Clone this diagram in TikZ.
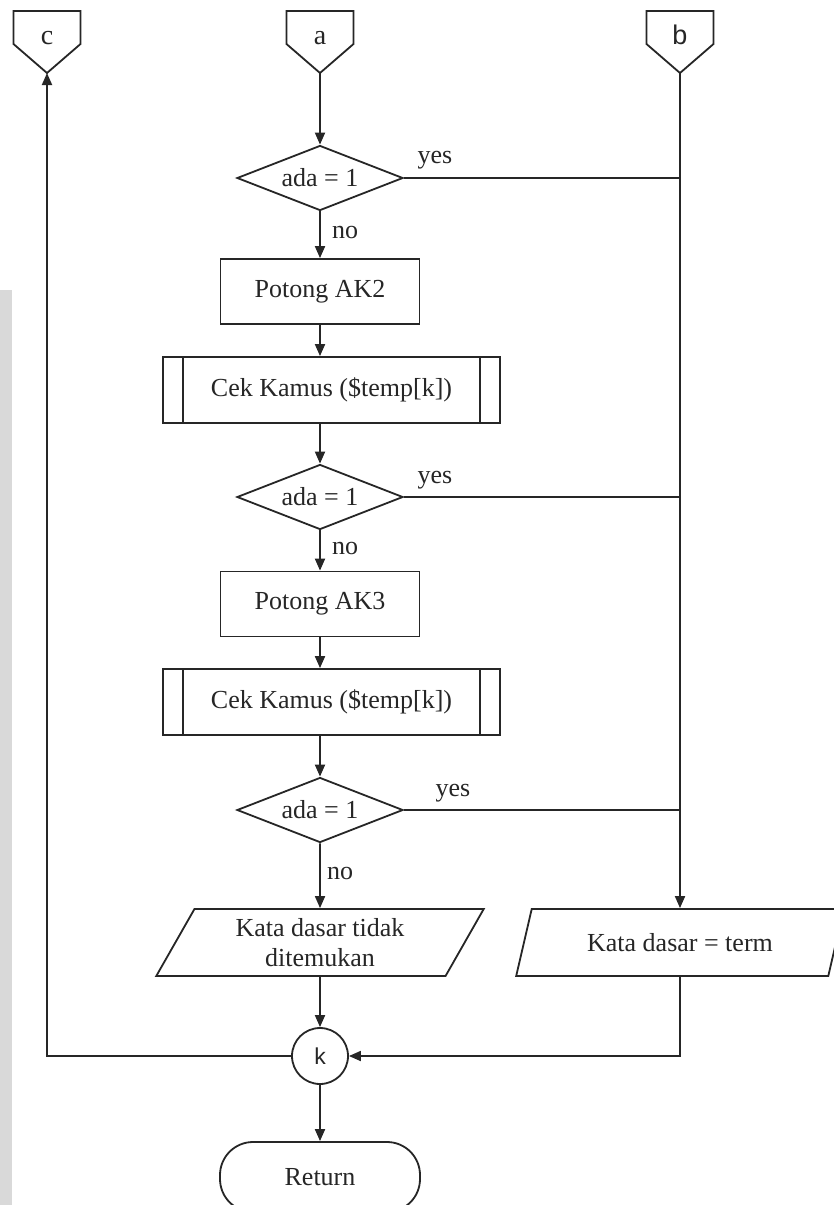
\documentclass[tikz,border=0pt]{standalone}
\usepackage{fontspec}
\setmainfont{Liberation Serif}
\newfontfamily\sansA{Liberation Sans}
\usetikzlibrary{shapes.geometric,arrows.meta,calc}
\begin{document}
\begin{tikzpicture}[x=1pt,y=-1pt,line width=1.8pt,color=black!85,
  font=\fontsize{26}{30}\selectfont,
  proc/.style={draw,rectangle,minimum width=199pt,minimum height=65pt,inner sep=0pt},
  sub/.style={proc,minimum width=337pt,minimum height=66pt},
  dec/.style={draw,diamond,aspect=2.55,minimum width=166pt,minimum height=65pt,inner sep=0pt},
  io/.style={draw,trapezium,trapezium left angle=62,trapezium right angle=118,
    trapezium stretches=true,minimum width=328pt,minimum height=67pt,inner sep=0pt,align=center},
  conn/.style={draw,circle,minimum size=56pt,inner sep=0pt,font=\sansA\fontsize{23}{27}\selectfont},
  term/.style={draw,rectangle,rounded corners=33pt,minimum width=200pt,minimum height=70pt},
  lbl/.style={inner sep=0pt},
  ltr/.style={inner sep=0pt,anchor=base,font=\fontsize{28}{32}\selectfont},
  ltrs/.style={ltr,font=\sansA\fontsize{27}{31}\selectfont},
  arr/.style={-{Triangle[length=12pt,width=10pt]}},
  offpage/.pic={\draw (-33.5,-17) -- (33.5,-17) -- (33.5,16) -- (0,45) -- (-33.5,16) -- cycle;
    \coordinate (-tip) at (0,45);}
]
\clip (0,0) rectangle (834,1205);
\fill[white] (0,0) rectangle (834,1205);
\fill[black!15] (0,290) rectangle (12,1205);

% off-page connectors
\pic (pc) at (47,28) {offpage};
\pic (pa) at (320,28) {offpage};
\pic (pb) at (680,28) {offpage};
\node[ltr] (tc) at (47,44) {c};
\node[ltr] (ta) at (320,44) {a};
\node[ltrs] (tb) at (680,44) {b};

% main column
\node[dec] (d1) at (320,178) {ada = 1};
\node[proc] (p1) at (320,291.5) {Potong AK2};
\node[sub] (s1) at (331.5,390) {Cek Kamus (\$temp[k])};
\node[dec] (d2) at (320,497) {ada = 1};
\node[proc] (p2) at (320,604) {Potong AK3};
\node[sub] (s2) at (331.5,702) {Cek Kamus (\$temp[k])};
\node[dec] (d3) at (320,810) {ada = 1};
\node[io] (o1) at (320,942.5) {Kata dasar tidak\\ditemukan};
\node[io] (o2) at (680,942.5) {Kata dasar = term};
\node[conn] (k) at (320,1056) {k};
\node[term] (ret) at (320,1177) {Return};

% predefined-process side bars
\foreach \n in {s1,s2}{
  \draw ([xshift=21pt]\n.north west) -- ([xshift=21pt]\n.south west);
  \draw ([xshift=-21pt]\n.north east) -- ([xshift=-21pt]\n.south east);
}

% branch labels
\node[lbl] (y1) at (435,160) {yes};
\node[lbl] (y2) at (435,480) {yes};
\node[lbl] (y3) at (453,793) {yes};
\node[lbl] (n1) at (345,232) {no};
\node[lbl] (n2) at (345,548) {no};
\node[lbl] (n3) at (340,873) {no};

% flow
\draw[arr] (pa-tip) -- (d1.north);
\draw[arr] (d1.south) -- (p1.north);
\draw[arr] (p1.south) -- (p1.south |- s1.north);
\draw[arr] (d2.north |- s1.south) -- (d2.north);
\draw[arr] (d2.south) -- (p2.north);
\draw[arr] (p2.south) -- (p2.south |- s2.north);
\draw[arr] (d3.north |- s2.south) -- (d3.north);
\draw[arr] (d3.south) -- (o1.north);
\draw (d1.east) -- (d1.east -| pb-tip);
\draw (d2.east) -- (d2.east -| pb-tip);
\draw (d3.east) -- (d3.east -| pb-tip);
\draw[arr] (pb-tip) -- (pb-tip |- o2.north);
\draw[arr] (o1.south) -- (k.north);
\draw[arr] (o2.south) -- (o2.south |- k.east) -- (k.east);
\draw[arr] (k.west) -- (k.west -| pc-tip) -- (pc-tip);
\draw[arr] (k.south) -- (ret.north);
\end{tikzpicture}
\end{document}
